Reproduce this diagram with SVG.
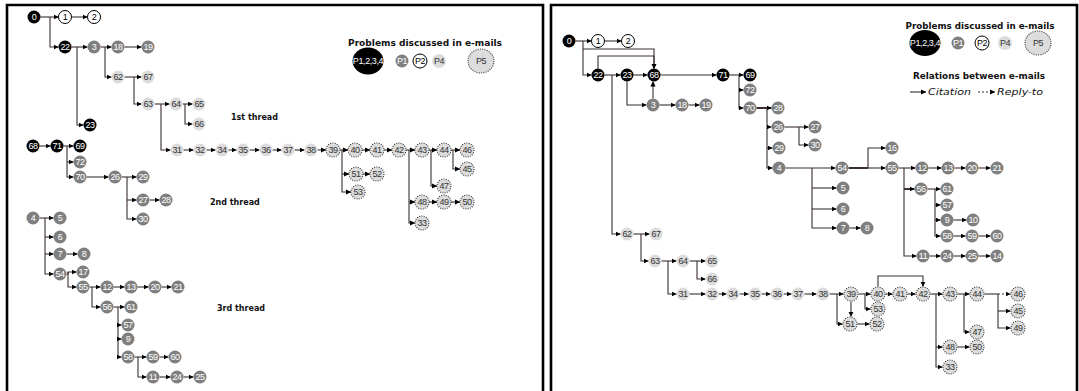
<svg xmlns="http://www.w3.org/2000/svg" width="1079" height="391" viewBox="0 0 1079 391">
<style>
.n circle{stroke:none}
.n text{font-family:"Liberation Sans",Arial,sans-serif;font-size:9px;text-anchor:middle;dominant-baseline:central;letter-spacing:-0.4px}
.k circle,.k ellipse{fill:#000}
.k text{fill:#fff}
.g circle{fill:#7f7f7f}
.g text{fill:#fff}
.w circle{fill:#fff;stroke:#000;stroke-width:1}
.w text{fill:#000}
.l circle{fill:#dcdcdc}
.l text{fill:#333}
.d circle,.d ellipse{fill:#dcdcdc;stroke:#333;stroke-width:1.1;stroke-dasharray:1 1.3}
.d text{fill:#333}
.c path{fill:none;stroke:#3b2f2f;stroke-width:1.1;marker-end:url(#a)}
.c path.nm{marker-end:none}
.c path.dash{stroke-dasharray:2 2}
.c path.thick{stroke-width:2}
.border{fill:none;stroke:#000;stroke-width:2.6}
.title{font-family:"DejaVu Sans",Verdana,sans-serif;font-weight:bold;font-size:9px;fill:#111}
.lg{font-family:"DejaVu Sans",Verdana,sans-serif;font-style:italic;font-size:9px;fill:#111}
.thr{font-family:"DejaVu Sans",Verdana,sans-serif;font-weight:bold;font-size:8px;fill:#111}
</style>
<defs>
<marker id="a" markerWidth="6" markerHeight="6" refX="5" refY="3" orient="auto" markerUnits="userSpaceOnUse"><path d="M0,0.4 L5.2,3 L0,5.6 z" fill="#000"/></marker>
</defs>
<rect width="1079" height="391" fill="#fff"/>
<path class="border" d="M7,391 V5 H543 V391"/>
<path class="border" d="M551,391 V5 H1077 V391"/>

<!-- LEFT PANEL connectors -->
<g id="left-connectors" class="c">
<path d="M40.5,17 H58.5"/>
<path d="M50,17 V47 H58.5"/>
<path d="M71.5,17 H87.5"/>
<path d="M71.5,47 H87.5"/>
<path d="M77,47 V125 H83.5"/>
<path d="M100.5,47 H111.5"/>
<path d="M105,47 V77 H111.5"/>
<path d="M124.5,47 H141.5"/>
<path d="M124.5,77 H141.5"/>
<path d="M134,77 V104 H141.5"/>
<path d="M154.5,104 H169.5"/>
<path d="M161,104 V150 H170.5"/>
<path d="M182.5,104 H192.5"/>
<path d="M185,104 V124 H192.5"/>
<path d="M183.5,150 H193.5"/>
<path d="M206.5,150 H215.5"/>
<path d="M228.5,150 H236.5"/>
<path d="M249.5,150 H259.5"/>
<path d="M272.5,150 H281.5"/>
<path d="M294.5,150 H304.5"/>
<path d="M317.5,150 H326"/>
<path d="M340,150 H348"/>
<path d="M342,150 V192 H351"/>
<path d="M342,174 H349"/>
<path d="M363,174 H370"/>
<path d="M362,150 H370"/>
<path d="M384,150 H392"/>
<path d="M406,150 H415"/>
<path d="M409,150 V223 H415"/>
<path d="M409,202 H415"/>
<path d="M429,202 H437"/>
<path d="M451,202 H460"/>
<path d="M429,150 H437"/>
<path d="M431,150 V186 H437"/>
<path d="M451,150 H460"/>
<path d="M453,150 V169 H460"/>
<path d="M39.5,146 H50.5"/>
<path d="M63.5,146 H73.5"/>
<path d="M67,146 V177 H73.5"/>
<path d="M67,162 H73.5"/>
<path d="M86.5,177 H108.5"/>
<path d="M121.5,177 H136.5"/>
<path d="M127,177 V219 H136.5"/>
<path d="M127,200 H136.5"/>
<path d="M149.5,200 H159.5"/>
<path d="M39.5,218 H53.5"/>
<path d="M45,218 V274 H53.5"/>
<path d="M45,237 H53.5"/>
<path d="M45,254 H53.5"/>
<path d="M66.5,254 H77.5"/>
<path d="M66.5,274 H68 V272 H76.5"/>
<path d="M68,272 V287 H76.5"/>
<path d="M89.5,287 H100.5"/>
<path d="M92,287 V307 H100.5"/>
<path d="M113.5,287 H124.5"/>
<path d="M137.5,287 H148.5"/>
<path d="M161.5,287 H171.5"/>
<path d="M113.5,307 H124.5"/>
<path d="M118,307 V357 H121.5"/>
<path d="M118,325 H121.5"/>
<path d="M118,339 H121.5"/>
<path d="M134.5,357 H146.5"/>
<path d="M138,357 V377 H146.5"/>
<path d="M159.5,357 H168.5"/>
<path d="M159.5,377 H170.5"/>
<path d="M183.5,377 H193.5"/>
</g>

<!-- LEFT PANEL nodes -->
<g id="L0" class="n k" transform="translate(34,17)"><circle r="6.5"/><text>0</text></g>
<g id="L1" class="n w" transform="translate(65,17)"><circle r="6.5"/><text>1</text></g>
<g id="L2" class="n w" transform="translate(94,17)"><circle r="6.5"/><text>2</text></g>
<g id="L22" class="n k" transform="translate(65,47)"><circle r="6.5"/><text>22</text></g>
<g id="L3" class="n g" transform="translate(94,47)"><circle r="6.5"/><text>3</text></g>
<g id="L18" class="n g" transform="translate(118,47)"><circle r="6.5"/><text>18</text></g>
<g id="L19" class="n g" transform="translate(148,47)"><circle r="6.5"/><text>19</text></g>
<g id="L62" class="n l" transform="translate(118,77)"><circle r="6.5"/><text>62</text></g>
<g id="L67" class="n l" transform="translate(148,77)"><circle r="6.5"/><text>67</text></g>
<g id="L63" class="n l" transform="translate(148,104)"><circle r="6.5"/><text>63</text></g>
<g id="L64" class="n l" transform="translate(176,104)"><circle r="6.5"/><text>64</text></g>
<g id="L65" class="n l" transform="translate(199,104)"><circle r="6.5"/><text>65</text></g>
<g id="L66" class="n l" transform="translate(199,124)"><circle r="6.5"/><text>66</text></g>
<g id="L23" class="n k" transform="translate(90,125)"><circle r="6.5"/><text>23</text></g>
<g id="L31" class="n l" transform="translate(177,150)"><circle r="6.5"/><text>31</text></g>
<g id="L32" class="n l" transform="translate(200,150)"><circle r="6.5"/><text>32</text></g>
<g id="L34" class="n l" transform="translate(222,150)"><circle r="6.5"/><text>34</text></g>
<g id="L35" class="n l" transform="translate(243,150)"><circle r="6.5"/><text>35</text></g>
<g id="L36" class="n l" transform="translate(266,150)"><circle r="6.5"/><text>36</text></g>
<g id="L37" class="n l" transform="translate(288,150)"><circle r="6.5"/><text>37</text></g>
<g id="L38" class="n l" transform="translate(311,150)"><circle r="6.5"/><text>38</text></g>
<g id="L39" class="n d" transform="translate(333,150)"><circle r="7"/><text>39</text></g>
<g id="L40" class="n d" transform="translate(355,150)"><circle r="7"/><text>40</text></g>
<g id="L41" class="n d" transform="translate(377,150)"><circle r="7"/><text>41</text></g>
<g id="L42" class="n d" transform="translate(399,150)"><circle r="7"/><text>42</text></g>
<g id="L43" class="n d" transform="translate(422,150)"><circle r="7"/><text>43</text></g>
<g id="L44" class="n d" transform="translate(444,150)"><circle r="7"/><text>44</text></g>
<g id="L46" class="n d" transform="translate(467,150)"><circle r="7"/><text>46</text></g>
<g id="L45" class="n d" transform="translate(467,169)"><circle r="7"/><text>45</text></g>
<g id="L51" class="n d" transform="translate(356,174)"><circle r="7"/><text>51</text></g>
<g id="L52" class="n d" transform="translate(377,174)"><circle r="7"/><text>52</text></g>
<g id="L53" class="n d" transform="translate(358,192)"><circle r="7"/><text>53</text></g>
<g id="L47" class="n d" transform="translate(444,186)"><circle r="7"/><text>47</text></g>
<g id="L48" class="n d" transform="translate(422,202)"><circle r="7"/><text>48</text></g>
<g id="L49" class="n d" transform="translate(444,202)"><circle r="7"/><text>49</text></g>
<g id="L50" class="n d" transform="translate(467,202)"><circle r="7"/><text>50</text></g>
<g id="L33" class="n d" transform="translate(422,223)"><circle r="7"/><text>33</text></g>
<g id="L68" class="n k" transform="translate(33,146)"><circle r="6.5"/><text>68</text></g>
<g id="L71" class="n k" transform="translate(57,146)"><circle r="6.5"/><text>71</text></g>
<g id="L69" class="n k" transform="translate(80,146)"><circle r="6.5"/><text>69</text></g>
<g id="L72" class="n g" transform="translate(80,162)"><circle r="6.5"/><text>72</text></g>
<g id="L70" class="n g" transform="translate(80,177)"><circle r="6.5"/><text>70</text></g>
<g id="L26" class="n g" transform="translate(115,177)"><circle r="6.5"/><text>26</text></g>
<g id="L29" class="n g" transform="translate(143,177)"><circle r="6.5"/><text>29</text></g>
<g id="L27" class="n g" transform="translate(143,200)"><circle r="6.5"/><text>27</text></g>
<g id="L28" class="n g" transform="translate(166,200)"><circle r="6.5"/><text>28</text></g>
<g id="L30" class="n g" transform="translate(143,219)"><circle r="6.5"/><text>30</text></g>
<g id="L4" class="n g" transform="translate(33,218)"><circle r="6.5"/><text>4</text></g>
<g id="L5" class="n g" transform="translate(60,218)"><circle r="6.5"/><text>5</text></g>
<g id="L6" class="n g" transform="translate(60,237)"><circle r="6.5"/><text>6</text></g>
<g id="L7" class="n g" transform="translate(60,254)"><circle r="6.5"/><text>7</text></g>
<g id="L8" class="n g" transform="translate(84,254)"><circle r="6.5"/><text>8</text></g>
<g id="L54" class="n g" transform="translate(60,274)"><circle r="6.5"/><text>54</text></g>
<g id="L17" class="n g" transform="translate(83,272)"><circle r="6.5"/><text>17</text></g>
<g id="L55" class="n g" transform="translate(83,287)"><circle r="6.5"/><text>55</text></g>
<g id="L12" class="n g" transform="translate(107,287)"><circle r="6.5"/><text>12</text></g>
<g id="L13" class="n g" transform="translate(131,287)"><circle r="6.5"/><text>13</text></g>
<g id="L20" class="n g" transform="translate(155,287)"><circle r="6.5"/><text>20</text></g>
<g id="L21" class="n g" transform="translate(178,287)"><circle r="6.5"/><text>21</text></g>
<g id="L56" class="n g" transform="translate(107,307)"><circle r="6.5"/><text>56</text></g>
<g id="L61" class="n g" transform="translate(131,307)"><circle r="6.5"/><text>61</text></g>
<g id="L57" class="n g" transform="translate(128,325)"><circle r="6.5"/><text>57</text></g>
<g id="L9" class="n g" transform="translate(128,339)"><circle r="6.5"/><text>9</text></g>
<g id="L58" class="n g" transform="translate(128,357)"><circle r="6.5"/><text>58</text></g>
<g id="L59" class="n g" transform="translate(153,357)"><circle r="6.5"/><text>59</text></g>
<g id="L60" class="n g" transform="translate(175,357)"><circle r="6.5"/><text>60</text></g>
<g id="L11" class="n g" transform="translate(153,377)"><circle r="6.5"/><text>11</text></g>
<g id="L24" class="n g" transform="translate(177,377)"><circle r="6.5"/><text>24</text></g>
<g id="L25" class="n g" transform="translate(200,377)"><circle r="6.5"/><text>25</text></g>

<text class="thr" x="231" y="120">1st thread</text>
<text class="thr" x="210" y="205">2nd thread</text>
<text class="thr" x="217" y="311">3rd thread</text>

<!-- LEFT legend -->
<g id="L-legend">
<text class="title" x="425" y="46" text-anchor="middle" textLength="154" lengthAdjust="spacingAndGlyphs">Problems discussed in e-mails</text>
<g class="n k" transform="translate(368,61)"><ellipse rx="15.5" ry="13.5"/><text>P1,2,3,4</text></g>
<g class="n g" transform="translate(402,61)"><circle r="6.5"/><text>P1</text></g>
<g class="n w" transform="translate(420,61)"><circle r="7"/><text>P2</text></g>
<g class="n l" transform="translate(439,61)"><circle r="7"/><text>P4</text></g>
<g class="n d" transform="translate(481,61)"><ellipse rx="13" ry="12"/><text>P5</text></g>
</g>

<!-- RIGHT PANEL connectors -->
<g id="right-connectors" class="c">
<path d="M575.5,41 H591.5"/>
<path d="M604.5,41 H621.5"/>
<path d="M583,41 V75 H591.5"/>
<path d="M583,49 H654 V68.5"/>
<path d="M598,68.5 V56 H654 V68.5"/>
<path d="M604.5,75 H620.5"/>
<path d="M612,75 V234 H620.5"/>
<path d="M633.5,75 H647.5"/>
<path d="M627,81.5 V105 H646.5"/>
<path d="M653,98.5 V81.5"/>
<path d="M659.5,105 H675.5"/>
<path d="M688.5,105 H699.5"/>
<path d="M660.5,75 H716.5"/>
<path d="M729.5,75 H743.5"/>
<path d="M739,75 V108 H743.5"/>
<path d="M739,90 H743.5"/>
<path class="thick" d="M756.5,108 H771.5"/>
<path d="M767,108 V168 H772.5"/>
<path d="M767,127 H771.5"/>
<path d="M767,148 H772.5"/>
<path d="M784.5,127 H808.5"/>
<path d="M799,127 V145 H808.5"/>
<path d="M785.5,168 H835.5"/>
<path d="M812,168 V228 H836.5"/>
<path d="M812,188 H836.5"/>
<path d="M812,209 H836.5"/>
<path d="M849.5,228 H860.5"/>
<path class="thick nm" d="M848.5,168 H868"/>
<path d="M868,168 V148 H885.5"/>
<path d="M868,168 H885.5"/>
<path d="M898.5,168 H915.5"/>
<path d="M904,168 V256 H916.5"/>
<path class="thick" d="M904,189 H914.5"/>
<path d="M928.5,168 H941.5"/>
<path d="M954.5,168 H965.5"/>
<path d="M978.5,168 H990.5"/>
<path d="M927.5,189 H940.5"/>
<path d="M935,189 V236 H940.5"/>
<path d="M935,205 H940.5"/>
<path d="M935,220 H940.5"/>
<path d="M953.5,220 H966.5"/>
<path d="M953.5,236 H965.5"/>
<path d="M978.5,236 H990.5"/>
<path d="M929.5,256 H940.5"/>
<path d="M953.5,256 H965.5"/>
<path d="M978.5,256 H990.5"/>
<path d="M633.5,234 H649.5"/>
<path d="M641,234 V261 H648.5"/>
<path d="M661.5,261 H676.5"/>
<path d="M668,261 V294 H676.5"/>
<path d="M689.5,261 H705.5"/>
<path d="M697,261 V279 H705.5"/>
<path d="M689.5,294 H705.5"/>
<path d="M718.5,294 H726.5"/>
<path d="M739.5,294 H748.5"/>
<path d="M761.5,294 H770.5"/>
<path d="M783.5,294 H791.5"/>
<path d="M804.5,294 H816.5"/>
<path d="M829.5,294 H843.5"/>
<path d="M837,294 V324 H842.5"/>
<path d="M851,301.5 V316.5"/>
<path d="M858.5,294 H870.5"/>
<path d="M865,294 V309 H870.5"/>
<path d="M885.5,294 H892.5"/>
<path d="M907.5,294 H915.5"/>
<path d="M878,286.5 V276 H923 V286.5"/>
<path d="M857.5,324 H869.5"/>
<path d="M930.5,294 H942.5"/>
<path d="M936,294 V367 H942.5"/>
<path d="M936,347 H942.5"/>
<path d="M957.5,347 H969.5"/>
<path d="M957.5,294 H969.5"/>
<path d="M964,294 V332 H969.5"/>
<path class="nm" d="M984.5,294 H998"/>
<path class="dash" d="M998,294 H1010.5"/>
<path d="M998,294 V328 H1010.5"/>
<path d="M998,311 H1010.5"/>
</g>

<!-- RIGHT PANEL nodes -->
<g id="R0" class="n k" transform="translate(569,41)"><circle r="6.5"/><text>0</text></g>
<g id="R1" class="n w" transform="translate(598,41)"><circle r="6.5"/><text>1</text></g>
<g id="R2" class="n w" transform="translate(628,41)"><circle r="6.5"/><text>2</text></g>
<g id="R22" class="n k" transform="translate(598,75)"><circle r="6.5"/><text>22</text></g>
<g id="R23" class="n k" transform="translate(627,75)"><circle r="6.5"/><text>23</text></g>
<g id="R68" class="n k" transform="translate(654,75)"><circle r="6.5"/><text>68</text></g>
<g id="R71" class="n k" transform="translate(723,75)"><circle r="6.5"/><text>71</text></g>
<g id="R69" class="n k" transform="translate(750,75)"><circle r="6.5"/><text>69</text></g>
<g id="R72" class="n g" transform="translate(750,90)"><circle r="6.5"/><text>72</text></g>
<g id="R70" class="n g" transform="translate(750,108)"><circle r="6.5"/><text>70</text></g>
<g id="R28" class="n g" transform="translate(778,108)"><circle r="6.5"/><text>28</text></g>
<g id="R26" class="n g" transform="translate(778,127)"><circle r="6.5"/><text>26</text></g>
<g id="R27" class="n g" transform="translate(815,127)"><circle r="6.5"/><text>27</text></g>
<g id="R30" class="n g" transform="translate(815,145)"><circle r="6.5"/><text>30</text></g>
<g id="R29" class="n g" transform="translate(779,148)"><circle r="6.5"/><text>29</text></g>
<g id="R4" class="n g" transform="translate(779,168)"><circle r="6.5"/><text>4</text></g>
<g id="R3" class="n g" transform="translate(653,105)"><circle r="6.5"/><text>3</text></g>
<g id="R18" class="n g" transform="translate(682,105)"><circle r="6.5"/><text>18</text></g>
<g id="R19" class="n g" transform="translate(706,105)"><circle r="6.5"/><text>19</text></g>
<g id="R54" class="n g" transform="translate(842,168)"><circle r="6.5"/><text>54</text></g>
<g id="R16" class="n g" transform="translate(892,148)"><circle r="6.5"/><text>16</text></g>
<g id="R55" class="n g" transform="translate(892,168)"><circle r="6.5"/><text>55</text></g>
<g id="R12" class="n g" transform="translate(922,168)"><circle r="6.5"/><text>12</text></g>
<g id="R13" class="n g" transform="translate(948,168)"><circle r="6.5"/><text>13</text></g>
<g id="R20" class="n g" transform="translate(972,168)"><circle r="6.5"/><text>20</text></g>
<g id="R21" class="n g" transform="translate(997,168)"><circle r="6.5"/><text>21</text></g>
<g id="R5" class="n g" transform="translate(843,188)"><circle r="6.5"/><text>5</text></g>
<g id="R6" class="n g" transform="translate(843,209)"><circle r="6.5"/><text>6</text></g>
<g id="R7" class="n g" transform="translate(843,228)"><circle r="6.5"/><text>7</text></g>
<g id="R8" class="n g" transform="translate(867,228)"><circle r="6.5"/><text>8</text></g>
<g id="R56" class="n g" transform="translate(921,189)"><circle r="6.5"/><text>56</text></g>
<g id="R61" class="n g" transform="translate(947,189)"><circle r="6.5"/><text>61</text></g>
<g id="R57" class="n g" transform="translate(947,205)"><circle r="6.5"/><text>57</text></g>
<g id="R9" class="n g" transform="translate(947,220)"><circle r="6.5"/><text>9</text></g>
<g id="R10" class="n g" transform="translate(973,220)"><circle r="6.5"/><text>10</text></g>
<g id="R58" class="n g" transform="translate(947,236)"><circle r="6.5"/><text>58</text></g>
<g id="R59" class="n g" transform="translate(972,236)"><circle r="6.5"/><text>59</text></g>
<g id="R60" class="n g" transform="translate(997,236)"><circle r="6.5"/><text>60</text></g>
<g id="R11" class="n g" transform="translate(923,256)"><circle r="6.5"/><text>11</text></g>
<g id="R24" class="n g" transform="translate(947,256)"><circle r="6.5"/><text>24</text></g>
<g id="R25" class="n g" transform="translate(972,256)"><circle r="6.5"/><text>25</text></g>
<g id="R14" class="n g" transform="translate(997,256)"><circle r="6.5"/><text>14</text></g>
<g id="R62" class="n l" transform="translate(627,234)"><circle r="6.5"/><text>62</text></g>
<g id="R67" class="n l" transform="translate(656,234)"><circle r="6.5"/><text>67</text></g>
<g id="R63" class="n l" transform="translate(655,261)"><circle r="6.5"/><text>63</text></g>
<g id="R64" class="n l" transform="translate(683,261)"><circle r="6.5"/><text>64</text></g>
<g id="R65" class="n l" transform="translate(712,261)"><circle r="6.5"/><text>65</text></g>
<g id="R66" class="n l" transform="translate(712,279)"><circle r="6.5"/><text>66</text></g>
<g id="R31" class="n l" transform="translate(683,294)"><circle r="6.5"/><text>31</text></g>
<g id="R32" class="n l" transform="translate(712,294)"><circle r="6.5"/><text>32</text></g>
<g id="R34" class="n l" transform="translate(733,294)"><circle r="6.5"/><text>34</text></g>
<g id="R35" class="n l" transform="translate(755,294)"><circle r="6.5"/><text>35</text></g>
<g id="R36" class="n l" transform="translate(777,294)"><circle r="6.5"/><text>36</text></g>
<g id="R37" class="n l" transform="translate(798,294)"><circle r="6.5"/><text>37</text></g>
<g id="R38" class="n l" transform="translate(823,294)"><circle r="6.5"/><text>38</text></g>
<g id="R39" class="n d" transform="translate(851,294)"><circle r="7"/><text>39</text></g>
<g id="R40" class="n d" transform="translate(878,294)"><circle r="7"/><text>40</text></g>
<g id="R41" class="n d" transform="translate(900,294)"><circle r="7"/><text>41</text></g>
<g id="R42" class="n d" transform="translate(923,294)"><circle r="7"/><text>42</text></g>
<g id="R43" class="n d" transform="translate(950,294)"><circle r="7"/><text>43</text></g>
<g id="R44" class="n d" transform="translate(977,294)"><circle r="7"/><text>44</text></g>
<g id="R46" class="n d" transform="translate(1018,294)"><circle r="7"/><text>46</text></g>
<g id="R45" class="n d" transform="translate(1018,311)"><circle r="7"/><text>45</text></g>
<g id="R49" class="n d" transform="translate(1018,328)"><circle r="7"/><text>49</text></g>
<g id="R53" class="n d" transform="translate(878,309)"><circle r="7"/><text>53</text></g>
<g id="R51" class="n d" transform="translate(850,324)"><circle r="7"/><text>51</text></g>
<g id="R52" class="n d" transform="translate(877,324)"><circle r="7"/><text>52</text></g>
<g id="R47" class="n d" transform="translate(977,332)"><circle r="7"/><text>47</text></g>
<g id="R48" class="n d" transform="translate(950,347)"><circle r="7"/><text>48</text></g>
<g id="R50" class="n d" transform="translate(977,347)"><circle r="7"/><text>50</text></g>
<g id="R33" class="n d" transform="translate(950,367)"><circle r="7"/><text>33</text></g>

<!-- RIGHT legend -->
<g id="R-legend">
<text class="title" x="980" y="29" text-anchor="middle" textLength="149" lengthAdjust="spacingAndGlyphs">Problems discussed in e-mails</text>
<g class="n k" transform="translate(925,43)"><ellipse rx="15.5" ry="13"/><text>P1,2,3,4</text></g>
<g class="n g" transform="translate(958,43)"><circle r="6.5"/><text>P1</text></g>
<g class="n w" transform="translate(982,43)"><circle r="7"/><text>P2</text></g>
<g class="n l" transform="translate(1005,43)"><circle r="7"/><text>P4</text></g>
<g class="n d" transform="translate(1038,43)"><ellipse rx="13" ry="12"/><text>P5</text></g>
<text class="title" x="979" y="79" text-anchor="middle" textLength="132" lengthAdjust="spacingAndGlyphs">Relations between e-mails</text>
<g class="c"><path d="M910,92 H926"/><path class="dash" d="M978,92 H995"/></g>
<text class="lg" x="928" y="95" textLength="43" lengthAdjust="spacingAndGlyphs">Citation</text>
<text class="lg" x="997" y="95" textLength="46" lengthAdjust="spacingAndGlyphs">Reply-to</text>
</g>
</svg>
